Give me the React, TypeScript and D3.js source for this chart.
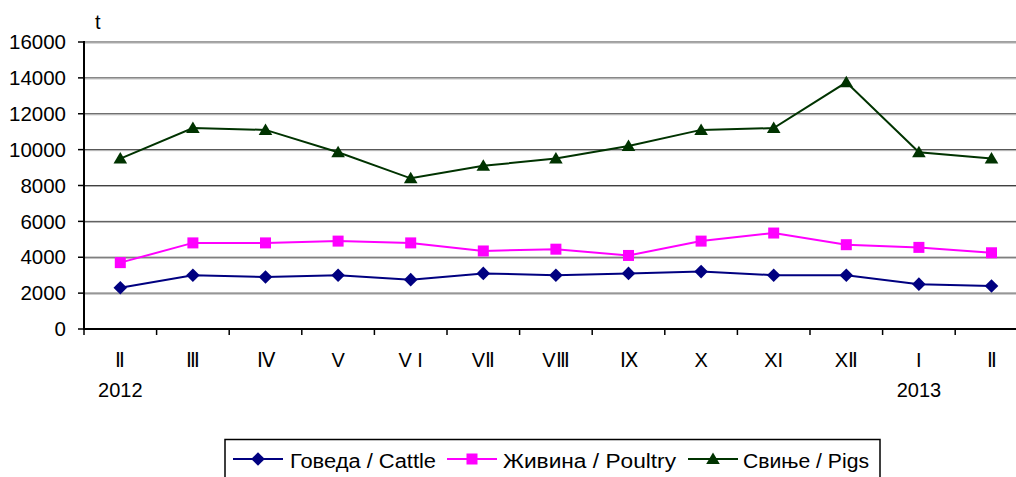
import React from "react";
import * as d3 from "d3";

const categories = ["Ⅱ", "Ⅲ", "Ⅳ", "V", "V I", "VⅡ", "VⅢ", "Ⅸ", "X", "XI", "XⅡ", "I", "Ⅱ"];
const cattle = [2300, 3000, 2900, 3000, 2750, 3100, 3000, 3100, 3200, 3000, 3000, 2500, 2400];
const poultry = [3700, 4800, 4800, 4900, 4800, 4350, 4450, 4100, 4900, 5350, 4700, 4550, 4250];
const pigs = [9500, 11200, 11100, 9850, 8400, 9100, 9500, 10200, 11100, 11200, 13750, 9850, 9500];
const yTicks = [0, 2000, 4000, 6000, 8000, 10000, 12000, 14000, 16000];
const yearLabels = [{ idx: 0, label: "2012" }, { idx: 11, label: "2013" }];
const seriesNames = ["Говеда / Cattle", "Живина / Poultry", "Свиње / Pigs"];

const W = 1016, H = 477;
const left = 84, top = 42, bottom = 329;
const band = 72.6;
const right = left + band * categories.length;

const FONT = "'Liberation Sans', Arial, sans-serif";

export default function App() {
  const x = d3.scaleBand<number>().domain(d3.range(categories.length)).range([left, right]).padding(0);
  const y = d3.scaleLinear().domain([0, 16000]).range([bottom, top]);
  const cx = (i: number) => (x(i) as number) + x.bandwidth() / 2;
  const line = d3.line<number>().x((_, i) => cx(i)).y((v) => y(v));

  const series = [
    { name: seriesNames[0], data: cattle, color: "#000080", marker: "diamond" },
    { name: seriesNames[1], data: poultry, color: "#FF00FF", marker: "square" },
    { name: seriesNames[2], data: pigs, color: "#003300", marker: "triangle" },
  ];

  const marker = (type: string, px: number, py: number, color: string, key: any) => {
    if (type === "diamond") {
      const s = 6.8;
      return <path key={key} d={`M${px},${py - s}L${px + s},${py}L${px},${py + s}L${px - s},${py}Z`} fill={color} />;
    }
    if (type === "square") {
      const s = 5.5;
      return <rect key={key} x={px - s} y={py - s} width={2 * s} height={2 * s} fill={color} />;
    }
    const s = 6.8;
    return <path key={key} d={`M${px},${py - 6.5}L${px + s},${py + 5}L${px - s},${py + 5}Z`} fill={color} />;
  };

  const legendItems = [
    { lx: 233, tx: 290, tw: 146 },
    { lx: 447, tx: 503, tw: 173 },
    { lx: 688, tx: 743, tw: 126 },
  ];

  return (
    <svg width={W} height={H} style={{ position: "absolute", left: 0, top: 0, background: "#fff" }} fontFamily={FONT}>
      <rect x={0} y={0} width={W} height={H} fill="#fff" />
      {yTicks.filter((t) => t > 0).map((t) => (
        <g key={t}>
          <line x1={left} x2={W} y1={y(t)} y2={y(t)} stroke="#404040" strokeWidth={1} />
          <line x1={left} x2={W} y1={y(t) + 1} y2={y(t) + 1} stroke="#b0b0b0" strokeWidth={1} />
        </g>
      ))}
      <line x1={left} x2={left} y1={top - 1} y2={bottom + 1} stroke="#000" strokeWidth={2} />
      {yTicks.map((t) => (
        <g key={"yt" + t}>
          <line x1={left - 6} x2={left} y1={y(t)} y2={y(t)} stroke="#000" strokeWidth={1.5} />
          <text x={66} y={y(t) + 7.2} textAnchor="end" fontSize={20.5} fill="#000">{t}</text>
        </g>
      ))}
      <text x={95} y={29} fontSize={20} fill="#000">t</text>
      <line x1={left - 1} x2={W} y1={bottom} y2={bottom} stroke="#000" strokeWidth={2} />
      {d3.range(categories.length + 1).map((i) => (
        <line key={"xt" + i} x1={left + i * band} x2={left + i * band} y1={bottom} y2={bottom + 6} stroke="#000" strokeWidth={1.5} />
      ))}
      {categories.map((c, i) => (
        <text key={"xl" + i} x={cx(i)} y={367} textAnchor="middle" fontSize={20} fill="#000">{c}</text>
      ))}
      {yearLabels.map((yl) => (
        <text key={yl.label} x={cx(yl.idx)} y={397} textAnchor="middle" fontSize={20} fill="#000">{yl.label}</text>
      ))}
      {series.map((s) => (
        <g key={s.name}>
          <path d={line(s.data) || ""} fill="none" stroke={s.color} strokeWidth={2} />
          {s.data.map((v, i) => marker(s.marker, cx(i), y(v), s.color, i))}
        </g>
      ))}
      <rect x={225} y={439.5} width={655} height={60} fill="#fff" stroke="#000" strokeWidth={1.5} />
      {series.map((s, k) => (
        <g key={"lg" + k}>
          <line x1={legendItems[k].lx} x2={legendItems[k].lx + 50} y1={459} y2={459} stroke={s.color} strokeWidth={2} />
          {marker(s.marker, legendItems[k].lx + 25, 459, s.color, "m")}
          <text x={legendItems[k].tx} y={468} fontSize={19.5} fill="#000" textLength={legendItems[k].tw} lengthAdjust="spacingAndGlyphs">{s.name}</text>
        </g>
      ))}
    </svg>
  );
}
